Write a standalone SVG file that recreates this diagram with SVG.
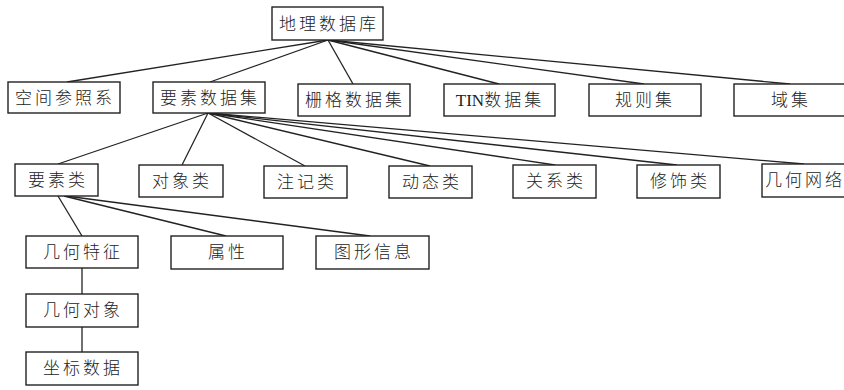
<svg xmlns="http://www.w3.org/2000/svg" width="844" height="390" viewBox="0 0 844 390">
<style>
rect{fill:#fff;stroke:#222;stroke-width:1.4}
text{font-family:"Liberation Serif","Noto Sans CJK SC",serif;font-size:17px;font-weight:300;fill:#222;text-anchor:middle;letter-spacing:3px}
.c line{stroke:#222;stroke-width:1.3}
</style>
<g class="c" id="connectors">
<line x1="328" y1="40" x2="67" y2="82"/>
<line x1="328" y1="40" x2="210" y2="82"/>
<line x1="328" y1="40" x2="353" y2="84"/>
<line x1="328" y1="40" x2="499" y2="84"/>
<line x1="328" y1="40" x2="644" y2="84"/>
<line x1="328" y1="40" x2="790" y2="84"/>
<line x1="208" y1="113" x2="58" y2="164"/>
<line x1="208" y1="113" x2="182" y2="165"/>
<line x1="208" y1="113" x2="305" y2="166"/>
<line x1="208" y1="113" x2="430" y2="166"/>
<line x1="208" y1="113" x2="555" y2="165"/>
<line x1="208" y1="113" x2="677" y2="165"/>
<line x1="208" y1="113" x2="804" y2="164"/>
<line x1="58" y1="196" x2="82" y2="236"/>
<line x1="64" y1="196" x2="226" y2="236"/>
<line x1="66" y1="196" x2="370" y2="236"/>
<line x1="82" y1="268" x2="82" y2="294"/>
<line x1="82" y1="327" x2="82" y2="352"/>
</g>
<g id="n-geodb"><rect x="272" y="7" width="111" height="33"/><text x="329" y="30">地理数据库</text></g>
<g id="n-srs"><rect x="8" y="82" width="112" height="31"/><text x="65" y="104">空间参照系</text></g>
<g id="n-fds"><rect x="153" y="82" width="112" height="31"/><text x="210" y="104">要素数据集</text></g>
<g id="n-raster"><rect x="298" y="84" width="112" height="32"/><text x="355" y="106">栅格数据集</text></g>
<g id="n-tin"><rect x="444" y="84" width="111" height="32"/><text x="500" y="106"><tspan style="letter-spacing:0">TIN</tspan>数据集</text></g>
<g id="n-rules"><rect x="589" y="84" width="112" height="32"/><text x="645" y="106">规则集</text></g>
<g id="n-domain"><rect x="734" y="84" width="112" height="32"/><text x="791" y="106">域集</text></g>
<g id="n-fc"><rect x="15" y="164" width="83" height="32"/><text x="58" y="186">要素类</text></g>
<g id="n-oc"><rect x="139" y="165" width="84" height="32"/><text x="182" y="187">对象类</text></g>
<g id="n-anno"><rect x="264" y="166" width="83" height="32"/><text x="307" y="188">注记类</text></g>
<g id="n-dyn"><rect x="389" y="166" width="83" height="32"/><text x="432" y="188">动态类</text></g>
<g id="n-rel"><rect x="513" y="165" width="83" height="33"/><text x="556" y="187">关系类</text></g>
<g id="n-dec"><rect x="637" y="165" width="83" height="33"/><text x="680" y="187">修饰类</text></g>
<g id="n-net"><rect x="762" y="164" width="112" height="33"/><text x="765" y="186" style="text-anchor:start">几何网络</text></g>
<g id="n-geom"><rect x="26" y="236" width="112" height="32"/><text x="83" y="258">几何特征</text></g>
<g id="n-attr"><rect x="171" y="236" width="112" height="33"/><text x="228" y="258">属性</text></g>
<g id="n-gfx"><rect x="316" y="236" width="113" height="33"/><text x="374" y="258">图形信息</text></g>
<g id="n-gobj"><rect x="26" y="294" width="112" height="33"/><text x="83" y="316">几何对象</text></g>
<g id="n-coord"><rect x="26" y="352" width="112" height="33"/><text x="83" y="374">坐标数据</text></g>
</svg>
